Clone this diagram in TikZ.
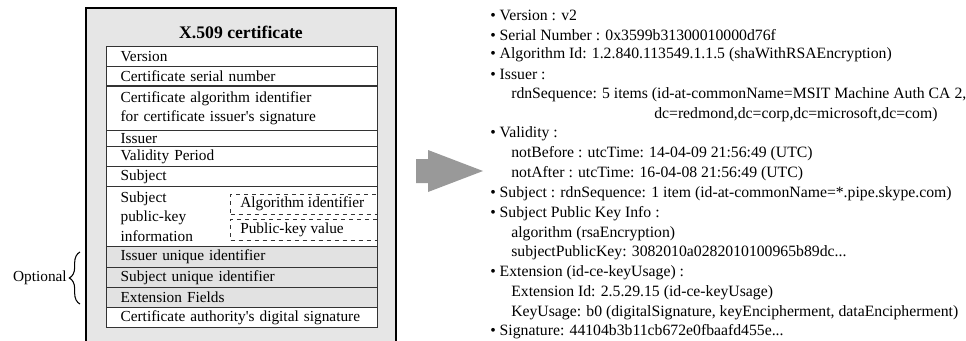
\documentclass[tikz,border=0pt]{standalone}
\usepackage{fontspec}
\setmainfont{Liberation Serif}
\usetikzlibrary{decorations.pathreplacing}
\definecolor{outerfill}{HTML}{E6E6E6}
\definecolor{optfill}{HTML}{E2E2E2}
\definecolor{arrowgray}{HTML}{999999}
\definecolor{linegray}{HTML}{333333}
\newcommand{\apos}{\textquotesingle}
\tikzset{
  row/.style={draw=linegray, line width=0.9pt, rectangle, anchor=north west, fill=white,
    minimum width=203.25pt, text width=182.25pt, inner xsep=10.5pt, inner ysep=0pt,
    align=left, font=\fontsize{11.5}{14.6}\selectfont},
  optrow/.style={row, fill=optfill},
  dashbox/.style={draw=linegray, dashed, line width=0.8pt, rectangle, anchor=north west,
    minimum width=110pt, minimum height=15pt, inner sep=0pt},
  dtext/.style={anchor=west, inner sep=0pt, font=\fontsize{11.5}{13}\selectfont},
  info/.style={anchor=west, inner sep=0pt, font=\fontsize{11.8}{13}\selectfont},
}
\begin{document}
\begin{tikzpicture}[x=0.75pt,y=-0.75pt]
\useasboundingbox (0,0) rectangle (966,340);
% outer box
\draw[fill=outerfill, line width=0.9pt] (86,8) rectangle (396,350);
\node[font=\fontsize{13.25}{15}\selectfont\bfseries] (title) at (241,32) {X.509 certificate};
% rows
\node[row, minimum height=15pt] (r1) at (106,46) {Version};
\node[row, minimum height=14.6pt] (r2) at (106,66) {Certificate serial number};
\node[row, minimum height=33.4pt] (r3) at (106,85.5) {Certificate algorithm identifier\\for certificate issuer\apos s signature};
\node[row, minimum height=12pt] (r4) at (106,130) {Issuer};
\node[row, minimum height=15pt] (r5) at (106,146) {Validity Period};
\node[row, minimum height=15pt] (r6) at (106,166) {Subject};
\node[row, minimum height=45pt] (r7) at (106,186) {Subject\\public-key\\information};
\node[optrow, minimum height=15.75pt] (r8) at (106,246) {Issuer unique identifier};
\node[optrow, minimum height=15pt] (r9) at (106,267) {Subject unique identifier};
\node[optrow, minimum height=15pt] (r10) at (106,287) {Extension Fields};
\node[row, minimum height=15pt] (r11) at (106,307) {Certificate authority\apos s digital signature};
% dashed sub boxes
\node[dashbox, minimum height=15pt] (alg) at (230,194) {};
\node[dtext] (algt) at (240,204) {Algorithm identifier};
\node[dashbox, minimum height=15.75pt] (pkv) at (230,219) {};
\node[dtext] (pkvt) at (240,229.5) {Public-key value};
% brace
\node[dtext, anchor=east] (opt) at (67,278) {Optional};
\draw[decorate, decoration={brace, amplitude=8pt}, line width=0.8pt] (80,304) -- (80,252);
% big arrow
\fill[arrowgray] (416,159) -- (428,159) -- (428,150) -- (483,171) -- (428,192) -- (428,183) -- (416,183) -- cycle;
% right text
\node[info] (l1) at (490,15) {• Version : v2};
\node[info] (l2) at (490,34.9) {• Serial Number : 0x3599b31300010000d76f};
\node[info] (l3) at (490,54.7) {• Algorithm Id: 1.2.840.113549.1.1.5 (shaWithRSAEncryption)};
\node[info] (l4) at (490,74.6) {• Issuer :};
\node[info] (l5) at (511,94.4) {rdnSequence: 5 items (id-at-commonName=MSIT Machine Auth CA 2,};
\node[info] (l6) at (654,114.3) {dc=redmond,dc=corp,dc=microsoft,dc=com)};
\node[info] (l7) at (490,134.1) {• Validity :};
\node[info] (l8) at (511,154) {notBefore : utcTime: 14-04-09 21:56:49 (UTC)};
\node[info] (l9) at (511,173.8) {notAfter : utcTime: 16-04-08 21:56:49 (UTC)};
\node[info] (l10) at (490,193.7) {• Subject : rdnSequence: 1 item (id-at-commonName=*.pipe.skype.com)};
\node[info] (l11) at (490,213.5) {• Subject Public Key Info :};
\node[info] (l12) at (511,233.4) {algorithm (rsaEncryption)};
\node[info] (l13) at (511,253.2) {subjectPublicKey: 3082010a0282010100965b89dc...};
\node[info] (l14) at (490,273.1) {• Extension (id-ce-keyUsage) :};
\node[info] (l15) at (511,292.9) {Extension Id: 2.5.29.15 (id-ce-keyUsage)};
\node[info] (l16) at (511,312.8) {KeyUsage: b0 (digitalSignature, keyEncipherment, dataEncipherment)};
\node[info] (l17) at (490,332) {• Signature: 44104b3b11cb672e0fbaafd455e...};
\end{tikzpicture}
\end{document}
